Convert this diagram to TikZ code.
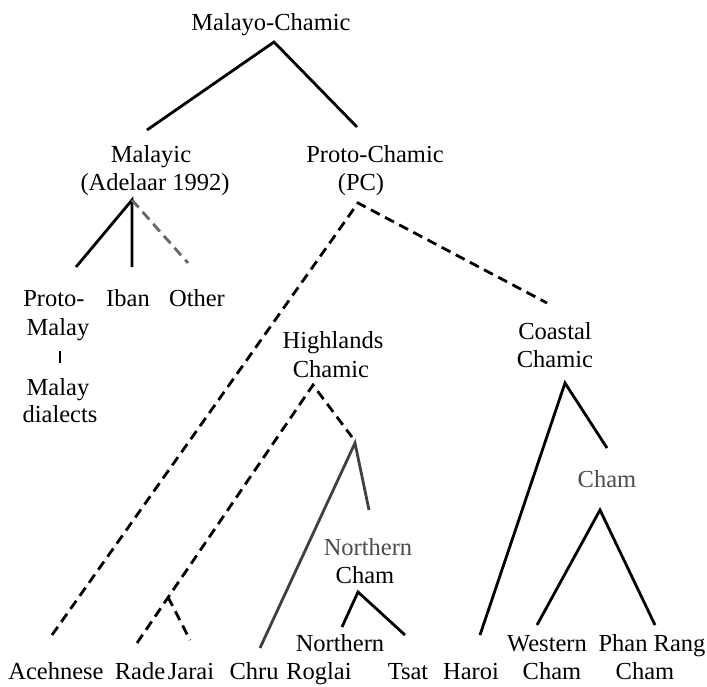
\documentclass[tikz,border=0pt]{standalone}
\usepackage{fontspec}
\setmainfont{Liberation Serif}
\tikzset{
  lbl/.style={font=\fontsize{24.5}{29}\selectfont, inner sep=0pt, anchor=base},
  soft/.style={text=black!70},
  branch/.style={line width=2.8pt},
  guess/.style={branch, dash pattern=on 10pt off 6pt},
}
\begin{document}
\begin{tikzpicture}[x=1pt,y=-1pt]
  \useasboundingbox (0,0) rectangle (707,686);

  % Labels, upper part
  \node[lbl] (mc) at (271,30) {Malayo-Chamic};
  \node[lbl] (malayic) at (151,162) {Malayic};
  \node[lbl] (adelaar) at (155,190) {(Adelaar 1992)};
  \node[lbl] (pc) at (375,162) {Proto-Chamic};
  \node[lbl] (pcabbr) at (361,190) {(PC)};
  \node[lbl] (protom) at (54,306) {Proto-};
  \node[lbl] (iban) at (128,306) {Iban};
  \node[lbl] (other) at (197,306) {Other};
  \node[lbl] (malay) at (58,335) {Malay};
  \node[lbl] (malayd) at (58,395) {Malay};
  \node[lbl] (dialects) at (60,422) {dialects};
  \node[lbl] (hl) at (333,348) {Highlands};
  \node[lbl] (hlchamic) at (331,377) {Chamic};
  \node[lbl] (cc) at (555,339) {Coastal};
  \node[lbl] (ccchamic) at (555,367) {Chamic};
  \node[lbl, soft] (cham) at (607,487) {Cham};
  \node[lbl, soft] (north) at (368,555) {Northern};
  \node[lbl] (ncham) at (365,583) {Cham};

  % Labels, bottom rows
  \node[lbl] (nroglai) at (340,651) {Northern};
  \node[lbl] (western) at (547,651) {Western};
  \node[lbl] (phanrang) at (652,651) {Phan Rang};
  \foreach \x/\t/\n in {56/Acehnese/ace, 140/Rade/rade, 191/Jarai/jarai,
      254/Chru/chru, 319/Roglai/roglai, 408/Tsat/tsat, 471/Haroi/haroi,
      552/Cham/wcham, 645/Cham/prcham} {
    \node[lbl] (\n) at (\x,679) {\t};
  }

  % Branch points and line ends
  \coordinate (mc-top) at (274,42);
  \coordinate (malayic-in) at (147,130);
  \coordinate (pc-in) at (357,127);
  \coordinate (mal-top) at (132,200);
  \coordinate (protom-in) at (76,267);
  \coordinate (iban-in) at (132,267);
  \coordinate (other-in) at (188,263);
  \coordinate (bar-a) at (60,351);
  \coordinate (bar-b) at (60,363);
  \coordinate (pc-top) at (358,203);
  \coordinate (ace-in) at (52,635);
  \coordinate (cc-in) at (547,303);
  \coordinate (hl-top) at (313,385);
  \coordinate (rade-in) at (137,643);
  \coordinate (rj-top) at (168,597);
  \coordinate (jarai-in) at (190,640);
  \coordinate (hl-right) at (352,437);
  \coordinate (fork-top) at (355,443);
  \coordinate (chru-in) at (260,648);
  \coordinate (ncham-in) at (369,510);
  \coordinate (ncham-top) at (358,592);
  \coordinate (nroglai-in) at (342,627);
  \coordinate (tsat-in) at (405,635);
  \coordinate (cc-top) at (565,383);
  \coordinate (haroi-in) at (480,635);
  \coordinate (cham-in) at (607,448);
  \coordinate (cham-top) at (600,510);
  \coordinate (wcham-in) at (537,625);
  \coordinate (prcham-in) at (655,625);

  % Solid branches
  \draw[branch] (malayic-in) -- (mc-top) -- (pc-in);
  \draw[branch] (protom-in) -- (mal-top) -- (iban-in);
  \draw[line width=1.2pt] (bar-a) -- (bar-b); % Proto-Malay to dialects
  \draw[branch, black!75] (chru-in) -- (fork-top) -- (ncham-in);
  \draw[branch] (nroglai-in) -- (ncham-top) -- (tsat-in);
  \draw[branch] (haroi-in) -- (cc-top) -- (cham-in);
  \draw[branch] (wcham-in) -- (cham-top) -- (prcham-in);

  % Dashed (uncertain) branches
  \draw[guess, black!60] (mal-top) -- (other-in);
  \draw[guess] (ace-in) -- (pc-top) -- (cc-in);
  \draw[guess] (rade-in) -- (hl-top) -- (hl-right);
  \draw[guess] (rj-top) -- (jarai-in);
\end{tikzpicture}
\end{document}
